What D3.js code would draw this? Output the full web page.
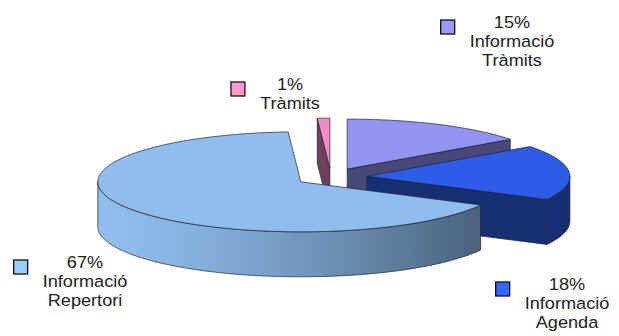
<!DOCTYPE html>
<html>
<head>
<meta charset="utf-8">
<script src="https://cdn.jsdelivr.net/npm/d3@7"></script>
<style>
  body { margin: 0; background: #fff; }
  svg { display: block; }
  text { font-family: "Liberation Sans", Arial, sans-serif; fill: #222; }
</style>
</head>
<body>
<svg id="chart" width="619" height="336"></svg>
<script>
// data
var categories = ["Informació Tràmits", "Informació Agenda", "Informació Repertori", "Tràmits"];
var values = [15, 18, 67, 1];

// styles / layout
var topColors = ["#9393f2", "#2d5de8", "#8fbdee", "#f08cc4"];
var keyColors = ["#9999ff", "#3366ff", "#99ccff", "#ff99cc"];
var labelPos = [[512, 28], [567, 290], [85, 268], [290, 90]];

var W = 619, H = 336;
var cx = 331, cy = 177, rx = 203, ry = 50, depth = 45, explode = 36;
var k = ry / rx;

var svg = d3.select('#chart');
var defs = svg.append('defs');

var pie = d3.pie().sort(null).startAngle(0).endAngle(2 * Math.PI);
var arcs = pie(values);

arcs.forEach(function(d) {
    var mid = (d.startAngle + d.endAngle) / 2;
    d.mid = mid;
    d.dx = explode * Math.sin(mid);
    d.dy = -explode * k * Math.cos(mid);
});

function proj(d, a, r, z) {
    return [cx + d.dx + r * Math.sin(a), cy + d.dy - r * k * Math.cos(a) + z];
}

function rim(d, a0, a1, z) {
    var n = Math.max(2, Math.ceil(Math.abs(a1 - a0) / 0.02));
    var t = d3.scaleLinear().domain([0, n]).range([a0, a1]);
    return d3.range(n + 1).map(function(i) { return proj(d, t(i), rx, z); });
}

var line = d3.line();
var outline = '#1e2238';

// back slices first
var order = arcs.slice().sort(function(a, b) { return -Math.cos(a.mid) + Math.cos(b.mid); });

order.forEach(function(d) {
    var i = d.index;
    var base = topColors[i];
    var dark = d3.rgb(base).darker(2.1);
    var g = svg.append('g').attr('class', 'slice');
    var a0 = d.startAngle, a1 = d.endAngle;

    // radial cut faces
    if (Math.sin(a0) < -1e-6) {
        g.append('path')
            .attr('d', line([proj(d, a0, 0, 0), proj(d, a0, rx, 0), proj(d, a0, rx, depth), proj(d, a0, 0, depth)]) + 'Z')
            .attr('fill', d3.rgb(base).darker(2.2))
            .attr('stroke', outline).attr('stroke-width', 0.7).attr('stroke-linejoin', 'round');
    }
    if (Math.sin(a1) > 1e-6) {
        g.append('path')
            .attr('d', line([proj(d, a1, 0, 0), proj(d, a1, rx, 0), proj(d, a1, rx, depth), proj(d, a1, 0, depth)]) + 'Z')
            .attr('fill', d3.rgb(base).darker(2))
            .attr('stroke', outline).attr('stroke-width', 0.7).attr('stroke-linejoin', 'round');
    }

    // outer wall, front half only
    var b0 = Math.max(a0, Math.PI / 2), b1 = Math.min(a1, 3 * Math.PI / 2);
    if (b1 > b0) {
        var xr = proj(d, b0, rx, 0)[0], xl = proj(d, b1, rx, 0)[0];
        var grad = defs.append('linearGradient')
            .attr('id', 'wall' + i)
            .attr('gradientUnits', 'userSpaceOnUse')
            .attr('x1', xl).attr('x2', xr).attr('y1', 0).attr('y2', 0);
        var ts = d3.scaleLinear().domain([0, 10]).range([b1, b0]);
        d3.range(11).forEach(function(j) {
            var a = ts(j);
            var x = proj(d, a, rx, 0)[0];
            var s = Math.pow((1 + Math.sin(a)) / 2, 1.4);
            grad.append('stop')
                .attr('offset', (xr === xl ? 0 : (x - xl) / (xr - xl)))
                .attr('stop-color', d3.interpolateRgb(base, dark)(s));
        });
        var pts = rim(d, b0, b1, 0).concat(rim(d, b1, b0, depth));
        g.append('path')
            .attr('d', line(pts) + 'Z')
            .attr('fill', 'url(#wall' + i + ')')
            .attr('stroke', outline).attr('stroke-width', 0.7).attr('stroke-linejoin', 'round');
    }

    // top face
    var top = [proj(d, 0, 0, 0)].concat(rim(d, a0, a1, 0));
    g.append('path')
        .attr('d', line(top) + 'Z')
        .attr('fill', base)
        .attr('stroke', outline).attr('stroke-width', 0.7).attr('stroke-linejoin', 'round');
});

// labels with key squares
var lineH = 19;
arcs.forEach(function(d) {
    var i = d.index;
    var lines = [values[i] + '%'].concat(categories[i].split(' '));
    var lg = svg.append('g')
        .attr('transform', 'translate(' + labelPos[i][0] + ',' + labelPos[i][1] + ') scale(1.1,1)');
    var txt = lg.append('text')
        .attr('text-anchor', 'middle')
        .style('font-size', '16.5px');
    lines.forEach(function(s, j) {
        txt.append('tspan').attr('x', 0).attr('y', j * lineH).text(s);
    });
    var bw = txt.node().getBBox().width * 1.1;
    var sq = 14;
    svg.append('rect')
        .attr('x', labelPos[i][0] - bw / 2 - 15 - sq)
        .attr('y', labelPos[i][1] - sq / 2 - 1)
        .attr('width', sq).attr('height', sq)
        .attr('fill', keyColors[i])
        .attr('stroke', '#111').attr('stroke-width', 1.3);
});
</script>
</body>
</html>
